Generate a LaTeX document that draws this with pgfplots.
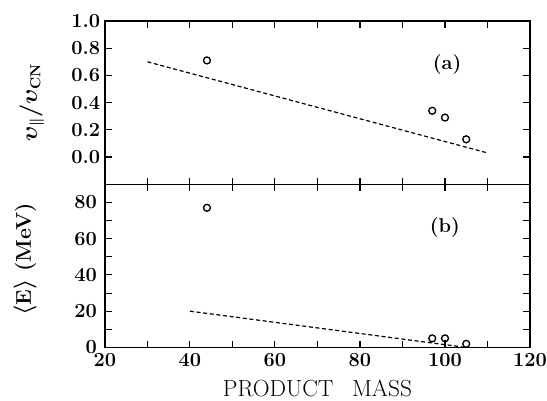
\documentclass[border=0pt]{standalone}
\usepackage{pgfplots}
\usepackage{bm}
\pgfplotsset{compat=1.18}
\begin{document}
\begin{tikzpicture}
\pgfplotsset{
  panel/.style={
    width=319pt, height=122.5pt, scale only axis,
    xmin=20, xmax=120,
    xtick={20,40,...,120}, minor xtick={30,50,...,110},
    tick align=inside, xtick pos=both, ytick pos=both,
    major tick length=5pt, minor tick length=5pt,
    every tick/.style={black, line width=0.8pt},
    axis line style={line width=0.9pt},
    /pgf/number format/assume math mode=true,
    tick label style={font=\fontsize{15}{17}\selectfont\bfseries},
    xticklabel style={yshift=-1pt},
    ylabel style={font=\fontsize{16}{18}\selectfont\bfseries, anchor=center},
    xlabel style={font=\fontsize{17.5}{20}\selectfont, yshift=-3pt},
  },
  pts/.style={only marks, mark=o, mark size=2.6pt, mark options={line width=1pt}, black},
  fit/.style={black, line width=0.9pt, dash pattern=on 3pt off 2pt},
}
\begin{axis}[panel, name=top,
  ymin=-0.2, ymax=1.0,
  ytick={0,0.2,...,1.0},
  yticklabel style={/pgf/number format/fixed, /pgf/number format/fixed zerofill, /pgf/number format/precision=1},
  xticklabels={},
  ylabel={$\bm{\upsilon}_{\bm{\parallel}}\bm{/}\bm{\upsilon}_{\mathbf{CN}}$},
  ylabel style={at={(axis description cs:-0.172,0.5)}},
]
\addplot[fit] coordinates {(30,0.70) (110,0.03)};
\addplot[pts] coordinates {(44,0.71) (97,0.34) (100,0.29) (105,0.13)};
\node[font=\fontsize{15}{17}\selectfont\bfseries] at (axis cs:100.5,0.68) {(a)};
\end{axis}
\begin{axis}[panel, name=bot, at={(top.south west)}, anchor=north west,
  ymin=0, ymax=90,
  ytick={0,20,...,80}, minor ytick={10,30,...,90},
  yticklabel style={xshift=-2.5pt},
  xlabel={PRODUCT\hspace{0.8em}MASS},
  ylabel={$\bm{\langle}$E$\bm{\rangle}$ (MeV)},
  ylabel style={at={(axis description cs:-0.188,0.54)}},
]
\addplot[fit] coordinates {(40,20) (105,0)};
\addplot[pts] coordinates {(44,77) (97,5) (100,5) (105,2)};
\addplot[black, line width=1pt] coordinates {(100,4) (100,1)};
\node[font=\fontsize{15}{17}\selectfont\bfseries] at (axis cs:100,66) {(b)};
\end{axis}
\pgfresetboundingbox
\path[use as bounding box] ([xshift=-78.75pt,yshift=15.75pt]top.north west)
  rectangle ([xshift=12.75pt,yshift=-39.75pt]bot.south east);
\end{tikzpicture}
\end{document}
